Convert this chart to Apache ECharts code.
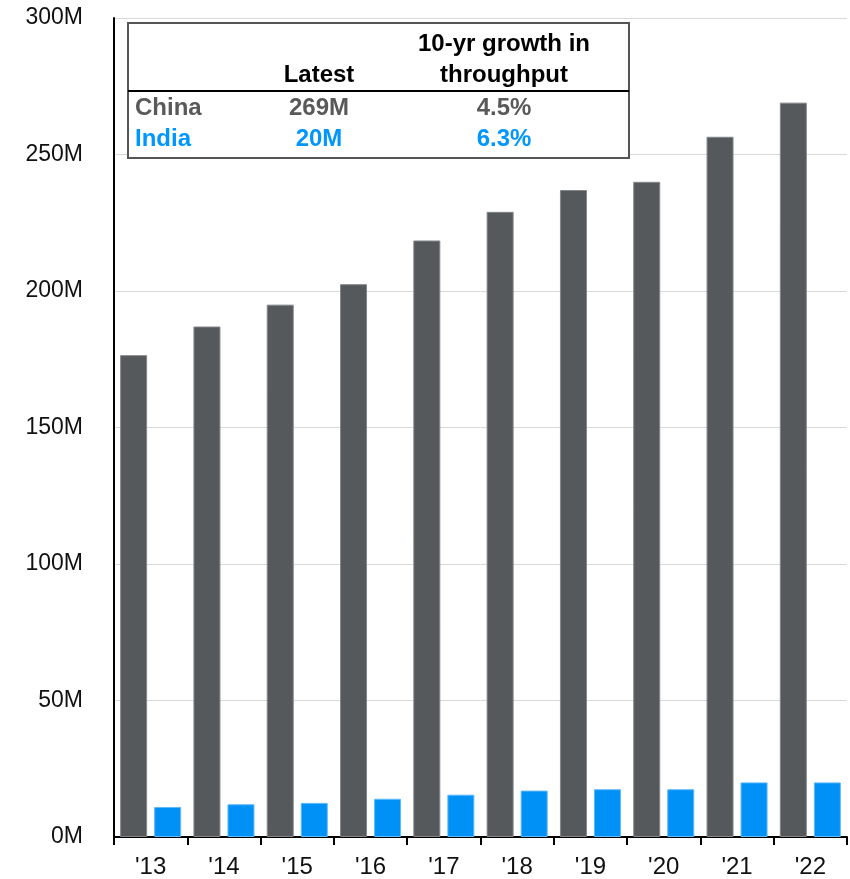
<!DOCTYPE html>
<html>
<head>
<meta charset="utf-8">
<script src="https://cdn.jsdelivr.net/npm/echarts@6/dist/echarts.min.js"></script>
<style>
  html, body { margin: 0; padding: 0; background: #fff; }
  #chart { width: 850px; height: 879px; }
</style>
</head>
<body>
<div id="chart"></div>
<script>
// Annual container throughput, millions of TEU
const years = ["'13", "'14", "'15", "'16", "'17", "'18", "'19", "'20", "'21", "'22"];
const china = [176.5, 187, 195, 202.5, 218.5, 229, 237, 240, 256.5, 269];
const india = [11, 12, 12.5, 14, 15.5, 17, 17.5, 17.5, 20, 20];
const yTicks = [0, 50, 100, 150, 200, 250, 300];
const growth = { China: '4.5%', India: '6.3%' };

const GRAY = '#56595c';
const BLUE = '#0091f7';
const FONT = '"Liberation Sans", Arial, sans-serif';

const chart = echarts.init(document.getElementById('chart'), null, { renderer: 'canvas' });

// Summary table drawn in the upper-left corner of the plot
const tableLeft = 128, tableTop = 23, tableRight = 629, tableBottom = 158, divider = 91;
const colLatest = 319, colGrowth = 504;
const cell = (text, x, y, color, align) => ({
  type: 'text', z: 101,
  x: x, y: y,
  style: { text: text, fill: color, font: 'bold 24px ' + FONT, textAlign: align, textVerticalAlign: 'middle' }
});
const latestChina = china[china.length - 1].toFixed(0) + 'M';
const latestIndia = india[india.length - 1].toFixed(0) + 'M';

chart.setOption({
  animation: false,
  backgroundColor: '#ffffff',
  grid: { left: 114, right: 3, top: 18, bottom: 42, containLabel: false },
  xAxis: {
    type: 'category',
    data: years,
    axisLine: { lineStyle: { color: '#000', width: 2 } },
    axisTick: { show: true, length: 8, lineStyle: { color: '#000', width: 2 } },
    axisLabel: { color: '#111', fontFamily: FONT, fontSize: 24, margin: 18 }
  },
  yAxis: {
    type: 'value',
    min: yTicks[0],
    max: yTicks[yTicks.length - 1],
    interval: yTicks[1] - yTicks[0],
    axisLine: { show: true, lineStyle: { color: '#000', width: 2 } },
    axisTick: { show: false },
    splitLine: { lineStyle: { color: '#d9d9d9', width: 1 } },
    axisLabel: { color: '#111', fontFamily: FONT, fontSize: 23, margin: 31, formatter: v => v + 'M' }
  },
  series: [
    {
      name: 'China', type: 'bar', data: china,
      barWidth: 27, barGap: '26%',
      itemStyle: { color: GRAY, borderColor: '#83878a', borderWidth: 1 }
    },
    {
      name: 'India', type: 'bar', data: india,
      barWidth: 27,
      itemStyle: { color: BLUE, borderColor: '#5fb9fb', borderWidth: 1 }
    }
  ],
  graphic: [
    {
      type: 'rect', z: 100,
      shape: { x: tableLeft, y: tableTop, width: tableRight - tableLeft, height: tableBottom - tableTop },
      style: { fill: '#ffffff', stroke: '#555', lineWidth: 2 }
    },
    {
      type: 'line', z: 101,
      shape: { x1: tableLeft, y1: divider, x2: tableRight, y2: divider },
      style: { stroke: '#000', lineWidth: 2 }
    },
    cell('10-yr growth in', colGrowth, 44, '#000', 'center'),
    cell('throughput', colGrowth, 75, '#000', 'center'),
    cell('Latest', colLatest, 75, '#000', 'center'),
    cell('China', 135, 108, '#595959', 'left'),
    cell(latestChina, colLatest, 108, '#595959', 'center'),
    cell(growth.China, colGrowth, 108, '#595959', 'center'),
    cell('India', 135, 139, '#0096ff', 'left'),
    cell(latestIndia, colLatest, 139, '#0096ff', 'center'),
    cell(growth.India, colGrowth, 139, '#0096ff', 'center')
  ]
});
</script>
</body>
</html>
